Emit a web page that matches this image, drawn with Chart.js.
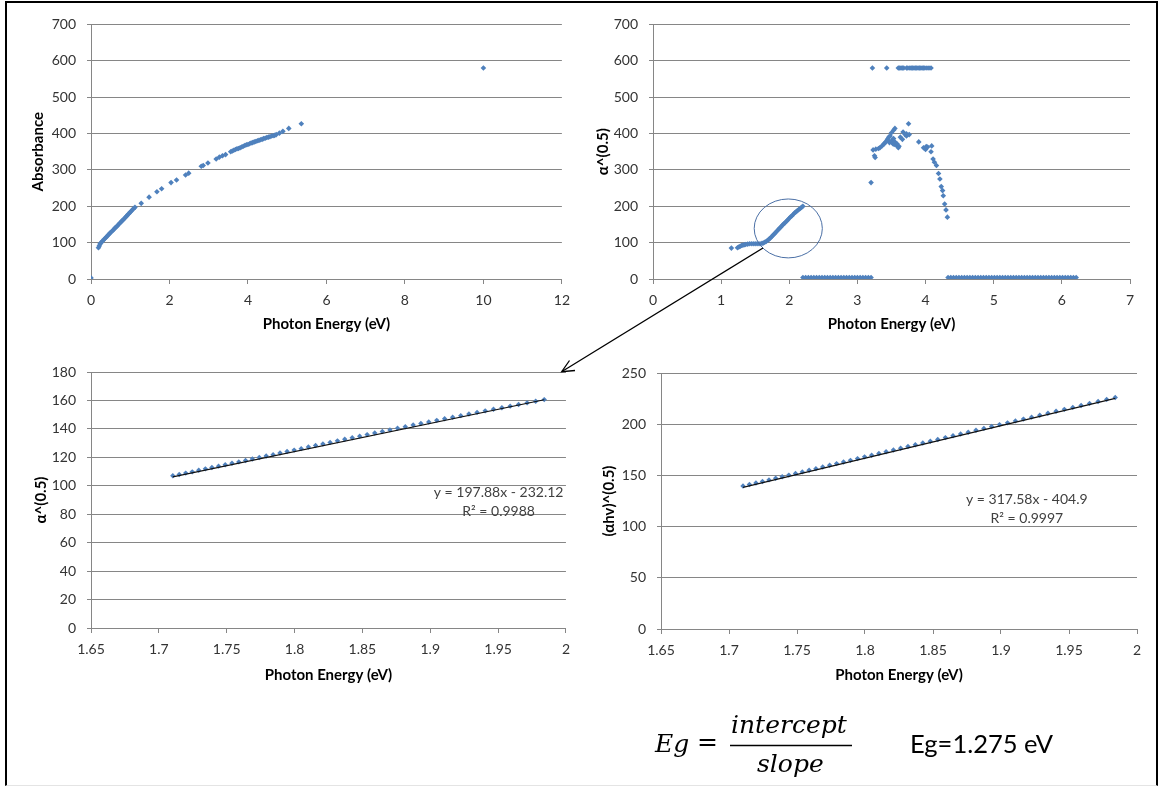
<!DOCTYPE html>
<html>
<head>
<meta charset="utf-8">
<script src="https://cdn.jsdelivr.net/npm/chart.js@4.4.1/dist/chart.umd.min.js"></script>
<style>
  html, body { margin: 0; padding: 0; background: #fff; }
  body { width: 1160px; height: 786px; position: relative; overflow: hidden; }
  #frame { position: absolute; left: 5px; top: 1px; width: 1149px; height: 782px;
           border: 2px solid #000; border-bottom: 1px solid #e4e4e4; }
  canvas { position: absolute; }
  #overlay { position: absolute; left: 0; top: 0; pointer-events: none; }
</style>
</head>
<body>
<div id="frame"></div>
<canvas id="absChart" width="570" height="335" style="left:8px;top:5px"></canvas>
<canvas id="alphaChart" width="578" height="335" style="left:580px;top:5px"></canvas>
<canvas id="fitChart" width="570" height="345" style="left:8px;top:345px"></canvas>
<canvas id="fitHvChart" width="578" height="345" style="left:580px;top:345px"></canvas>

<svg id="overlay" width="1160" height="786">
  <line x1="763" y1="248" x2="562" y2="371.5" stroke="#000" stroke-width="1.3"/>
  <polyline points="575,370.5 561.7,371.7 569.5,360.5" fill="none" stroke="#000" stroke-width="1.3"/>
  <text x="655" y="751.5" font-family="DejaVu Serif" font-style="italic" font-size="25">Eg</text>
  <text x="697" y="750" font-family="DejaVu Serif" font-size="25">=</text>
  <text x="731" y="733" font-family="DejaVu Serif" font-style="italic" font-size="25">intercept</text>
  <line x1="730" y1="745.5" x2="852" y2="745.5" stroke="#000" stroke-width="1.5"/>
  <text x="757" y="771.5" font-family="DejaVu Serif" font-style="italic" font-size="25">slope</text>
  <text x="910" y="752.5" font-family="Lato, 'Open Sans', sans-serif" font-size="25.5">Eg=1.275 eV</text>
</svg>

<script>
// top left: absorbance vs photon energy
const absEnergy = [0, 0.19, 0.21, 0.23, 0.25, 0.28, 0.31, 0.34, 0.37, 0.40, 0.43, 0.46, 0.49, 0.52, 0.55,
  0.58, 0.61, 0.64, 0.67, 0.70, 0.73, 0.76, 0.79, 0.82, 0.85, 0.88, 0.91, 0.94, 0.97, 1.00, 1.03, 1.06,
  1.09, 1.12, 1.28, 1.48, 1.68, 1.80, 2.04, 2.18, 2.41, 2.49, 2.81, 2.86, 2.98, 3.19, 3.27, 3.35, 3.43,
  3.56, 3.60, 3.64, 3.68, 3.72, 3.76, 3.80, 3.84, 3.88, 3.92, 3.96, 4.00, 4.04, 4.08, 4.12, 4.16, 4.20,
  4.24, 4.28, 4.32, 4.36, 4.40, 4.44, 4.48, 4.52, 4.56, 4.60, 4.64, 4.68, 4.72, 4.80, 4.89, 5.04, 5.36, 10];
const absValue = [3, 86, 91, 96, 99, 103, 106, 110, 113, 116, 120, 123, 127, 130, 133,
  136, 140, 143, 146, 150, 153, 156, 160, 163, 166, 170, 173, 177, 180, 184, 187, 191,
  194, 197, 208, 225, 240, 248, 265, 272, 286, 291, 310, 312, 319, 330, 335, 339, 342,
  350, 352, 354, 356, 358, 359, 361, 363, 365, 367, 369, 370, 372, 374, 375, 377, 378,
  380, 381, 383, 384, 386, 387, 389, 390, 391, 393, 394, 395, 397, 401, 406, 414, 427, 580];

// top right: alpha^(0.5) vs photon energy
const riseEnergy = [1.15, 1.24, 1.26, 1.28, 1.30, 1.32, 1.34, 1.36, 1.39, 1.42, 1.45, 1.48, 1.51, 1.54,
  1.57, 1.60, 1.62, 1.64, 1.66, 1.68, 1.70, 1.72, 1.74, 1.76, 1.78, 1.80, 1.82, 1.84, 1.86, 1.88, 1.90,
  1.92, 1.94, 1.96, 1.98, 2.00, 2.02, 2.04, 2.06, 2.08, 2.10, 2.12, 2.14, 2.16, 2.18, 2.20];
const riseAlpha = [85, 86, 88, 90, 92, 93, 94, 95, 96, 97, 97, 97, 97, 97,
  97, 98, 99, 101, 103, 106, 109, 112, 116, 120, 124, 128, 132, 136, 140, 144, 148,
  152, 155, 159, 163, 167, 171, 174, 178, 182, 185, 188, 191, 194, 197, 200];
const zeroEnergy = [2.20, 2.24, 2.28, 2.32, 2.36, 2.40, 2.44, 2.48, 2.52, 2.56, 2.60, 2.64, 2.68, 2.72,
  2.76, 2.80, 2.84, 2.88, 2.92, 2.96, 3.00, 3.04, 3.08, 3.12, 3.16, 3.20,
  4.33, 4.37, 4.41, 4.45, 4.49, 4.53, 4.57, 4.61, 4.65, 4.69, 4.73, 4.77, 4.81, 4.85, 4.89, 4.93,
  4.97, 5.01, 5.05, 5.09, 5.13, 5.17, 5.21, 5.25, 5.29, 5.33, 5.37, 5.41, 5.45, 5.49, 5.53, 5.57,
  5.61, 5.65, 5.69, 5.73, 5.77, 5.81, 5.85, 5.89, 5.93, 5.97, 6.01, 6.05, 6.09, 6.13, 6.17, 6.21];
const zeroAlpha = [4, 4, 4, 4, 4, 4, 4, 4, 4, 4, 4, 4, 4, 4, 4, 4, 4, 4, 4, 4, 4, 4, 4, 4, 4, 4,
  4, 4, 4, 4, 4, 4, 4, 4, 4, 4, 4, 4, 4, 4, 4, 4, 4, 4, 4, 4, 4, 4, 4, 4, 4, 4, 4, 4, 4, 4, 4, 4,
  4, 4, 4, 4, 4, 4, 4, 4, 4, 4, 4, 4, 4, 4, 4, 4];
const capEnergy = [3.22, 3.43, 3.60, 3.62, 3.64, 3.66, 3.68, 3.72, 3.74, 3.77, 3.79, 3.81, 3.83, 3.85,
  3.87, 3.89, 3.91, 3.93, 3.95, 3.97, 3.99, 4.02, 4.05, 4.08];
const capAlpha = [580, 580, 580, 580, 580, 580, 580, 580, 580, 580, 580, 580, 580, 580,
  580, 580, 580, 580, 580, 580, 580, 580, 580, 580];
const peakEnergy = [3.20, 3.23, 3.25, 3.26, 3.27, 3.31, 3.33, 3.36, 3.39, 3.40, 3.42, 3.44, 3.45, 3.46,
  3.47, 3.48, 3.50, 3.50, 3.52, 3.53, 3.53, 3.54, 3.55, 3.55, 3.57, 3.58, 3.60, 3.61, 3.63, 3.66, 3.67,
  3.70, 3.72, 3.72, 3.75, 3.76, 3.90, 3.97, 4.00, 4.01, 4.03, 4.08, 4.09, 4.11, 4.13, 4.16, 4.19, 4.21,
  4.23, 4.25, 4.26, 4.28, 4.30, 4.32];
const peakAlpha = [265, 355, 339, 334, 357, 359, 361, 366, 371, 374, 378, 384, 380, 390,
  375, 393, 402, 380, 372, 409, 386, 370, 414, 377, 368, 372, 361, 365, 390, 384, 404,
  397, 393, 399, 427, 397, 377, 361, 356, 364, 363, 350, 366, 330, 321, 312, 290, 275,
  254, 243, 229, 206, 190, 170];

// bottom: linear region 1.71 - 1.985 eV
const fitEnergy = [1.9840, 1.9777, 1.9714, 1.9651, 1.9589, 1.9528, 1.9466, 1.9405, 1.9345, 1.9285,
  1.9225, 1.9165, 1.9106, 1.9048, 1.8989, 1.8931, 1.8874, 1.8816, 1.8759, 1.8703, 1.8647, 1.8591,
  1.8535, 1.8480, 1.8425, 1.8370, 1.8316, 1.8262, 1.8209, 1.8155, 1.8102, 1.8049, 1.7997, 1.7945,
  1.7893, 1.7842, 1.7791, 1.7740, 1.7689, 1.7639, 1.7589, 1.7539, 1.7489, 1.7440, 1.7391, 1.7343,
  1.7294, 1.7246, 1.7198, 1.7150, 1.7103];
const fitAlpha = [160.6, 159.4, 158.3, 157.1, 156.0, 154.9, 153.8, 152.7, 151.6, 150.5,
  149.3, 148.2, 147.1, 146.0, 144.8, 143.8, 142.7, 141.5, 140.4, 139.3, 138.2, 137.1,
  136.0, 134.9, 133.8, 132.7, 131.6, 130.5, 129.4, 128.3, 127.3, 126.1, 125.1, 124.1,
  123.0, 121.9, 120.9, 119.9, 118.8, 117.8, 116.8, 115.8, 114.8, 113.8, 112.8, 111.9,
  110.9, 109.8, 108.9, 107.9, 107.0];
const fitAlphaHv = [226.1, 224.2, 222.2, 220.3, 218.3, 216.4, 214.5, 212.6, 210.7, 208.8,
  206.9, 205.0, 203.2, 201.3, 199.6, 197.7, 195.9, 194.1, 192.2, 190.5, 188.7, 186.9,
  185.1, 183.4, 181.6, 179.9, 178.2, 176.5, 174.8, 173.1, 171.4, 169.7, 168.1, 166.4,
  164.7, 163.1, 161.5, 159.9, 158.2, 156.6, 155.0, 153.4, 151.8, 150.3, 148.7, 147.2,
  145.6, 144.1, 142.6, 141.1, 139.6];
const trendEnergy = [1.7103, 1.9840];
const trendAlpha = [106.31, 160.47];
const trendAlphaHv = [138.26, 225.18];

const BLUE = '#4f81bd';
const GRID = '#868686';
const FONT = 'Lato, "Open Sans", sans-serif';

const pts = (xs, ys) => xs.map((x, i) => ({ x, y: ys[i] }));

function markers(data, r) {
    return {
        data,
        showLine: false,
        pointStyle: 'rectRot',
        pointRadius: r,
        pointBackgroundColor: BLUE,
        pointBorderWidth: 0
    };
}

function xAxis(min, max, step, height, titlePad) {
    return {
        type: 'linear', min, max,
        ticks: {
            stepSize: step, color: '#333', font: { family: FONT, size: 14 },
            padding: 8, autoSkip: false, maxRotation: 0,
            callback: v => String(+v.toFixed(2))
        },
        grid: { drawOnChartArea: false, color: GRID, tickLength: 5 },
        border: { color: GRID },
        title: {
            display: true, text: 'Photon Energy (eV)', color: '#000',
            font: { family: FONT, size: 15, weight: 'bold' },
            padding: { top: 0, bottom: titlePad }
        },
        afterFit: s => { s.height = height; }
    };
}

function yAxis(min, max, step, title, width, titlePad) {
    return {
        type: 'linear', min, max,
        ticks: { stepSize: step, color: '#333', font: { family: FONT, size: 14 }, padding: 11 },
        grid: { color: GRID, tickLength: 4 },
        border: { color: GRID },
        title: {
            display: true, text: title, color: '#000',
            font: { family: FONT, size: 15, weight: 'bold' },
            padding: { top: titlePad, bottom: 0 }
        },
        afterFit: s => { s.width = width; }
    };
}

// trendline label written in data coordinates
function notePlugin(x, y, lines) {
    return {
        id: 'note',
        afterDatasetsDraw(chart) {
            const { ctx, scales } = chart;
            ctx.save();
            ctx.font = '14px ' + FONT;
            ctx.fillStyle = '#404040';
            ctx.textAlign = 'center';
            ctx.textBaseline = 'middle';
            lines.forEach((t, i) => {
                ctx.fillText(t, scales.x.getPixelForValue(x), scales.y.getPixelForValue(y) + i * 19);
            });
            ctx.restore();
        }
    };
}

const circlePlugin = {
    id: 'circle',
    afterDatasetsDraw(chart) {
        const { ctx, scales: { x, y } } = chart;
        const cx = x.getPixelForValue(1.985), cy = y.getPixelForValue(139);
        const rx = x.getPixelForValue(2.485) - cx, ry = cy - y.getPixelForValue(220);
        ctx.save();
        ctx.strokeStyle = '#4a6fa5';
        ctx.lineWidth = 1;
        ctx.beginPath();
        ctx.ellipse(cx, cy, rx, ry, 0, 0, Math.PI * 2);
        ctx.stroke();
        ctx.restore();
    }
};

function makeChart(id, datasets, scales, padding, plugins) {
    new Chart(document.getElementById(id), {
        type: 'scatter',
        data: { datasets },
        options: {
            responsive: false,
            animation: false,
            events: [],
            layout: { padding },
            plugins: { legend: { display: false }, tooltip: { enabled: false } },
            scales
        },
        plugins
    });
}

makeChart('absChart',
    [markers(pts(absEnergy, absValue), 2.8)],
    { x: xAxis(0, 12, 2, 61, 6.5), y: yAxis(0, 700, 100, 'Absorbance', 83, 21) },
    { top: 18, right: 14, bottom: 0, left: 0 }, []);

makeChart('alphaChart',
    [
        markers(pts(riseEnergy, riseAlpha), 2.8),
        markers(pts(zeroEnergy, zeroAlpha), 2.8),
        markers(pts(capEnergy, capAlpha), 2.8),
        markers(pts(peakEnergy, peakAlpha), 2.8)
    ],
    { x: xAxis(0, 7, 1, 61, 6.5), y: yAxis(0, 700, 100, 'α^(0.5)', 73, 14) },
    { top: 18, right: 28, bottom: 0, left: 0 }, [circlePlugin]);

const trendLine = (xs, ys) => ({
    data: pts(xs, ys), showLine: true, borderColor: '#111', borderWidth: 1.2, pointRadius: 0
});

makeChart('fitChart',
    [trendLine(trendEnergy, trendAlpha), markers(pts(fitEnergy, fitAlpha), 2.7)],
    { x: xAxis(1.65, 2, 0.05, 62, 6), y: yAxis(0, 180, 20, 'α^(0.5)', 83, 24.5) },
    { top: 27, right: 12, bottom: 0, left: 0 },
    [notePlugin(1.9504, 95.6, ['y = 197.88x - 232.12', 'R² = 0.9988'])]);

makeChart('fitHvChart',
    [trendLine(trendEnergy, trendAlphaHv), markers(pts(fitEnergy, fitAlphaHv), 2.7)],
    { x: xAxis(1.65, 2, 0.05, 61, 6), y: yAxis(0, 250, 50, '(αhv)^(0.5)', 81, 20) },
    { top: 28, right: 21, bottom: 0, left: 0 },
    [notePlugin(1.919, 126.8, ['y = 317.58x - 404.9', 'R² = 0.9997'])]);
</script>
</body>
</html>
